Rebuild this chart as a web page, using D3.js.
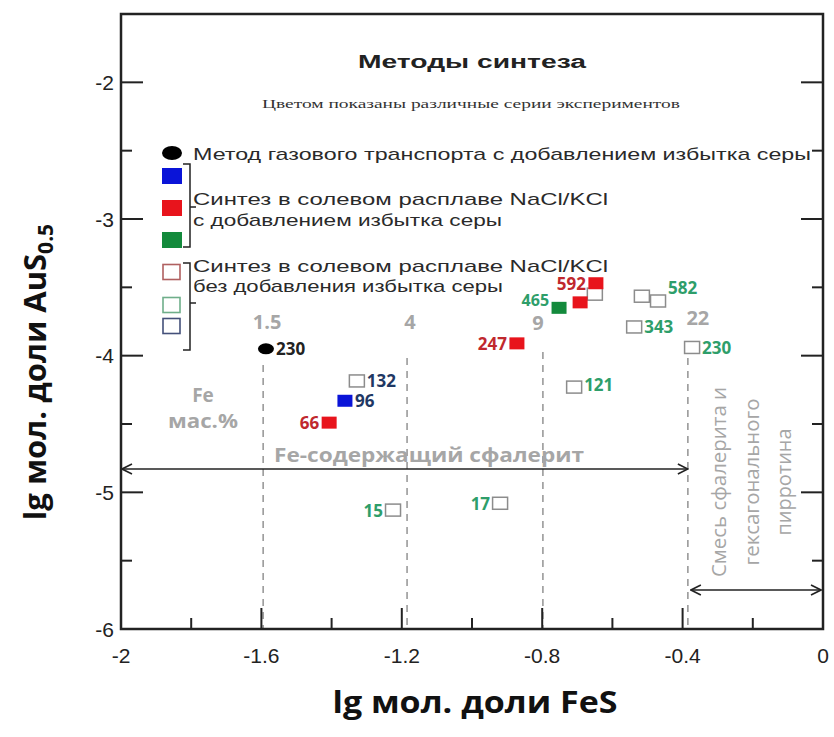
<!DOCTYPE html>
<html>
  <head>
    <meta charset="utf-8">
    <title>Методы синтеза</title>
    <script src="https://d3js.org/d3.v7.min.js"></script>
    <style>
      body { margin: 0; background: #fff; }
    </style>
  </head>
  <body>
    <script>
      // axis ticks
      var xTicks = [-2, -1.6, -1.2, -0.8, -0.4, 0];
      var xTickLabels = ["-2", "-1.6", "-1.2", "-0.8", "-0.4", "0"];
      var yTicks = [-2, -3, -4, -5, -6];
      var yTickLabels = ["-2", "-3", "-4", "-5", "-6"];

      // gas transport method with excess sulfur
      var gasX = [-1.587];
      var gasY = [-3.95];
      var gasLabels = ["230"];

      // salt melt with excess sulfur (filled)
      var blueX = [-1.362];
      var blueY = [-4.33];
      var blueLabels = ["96"];
      var redX = [-1.407, -0.872, -0.692, -0.647];
      var redY = [-4.49, -3.91, -3.61, -3.47];
      var redLabels = ["66", "247", "", "592"];
      var greenX = [-0.752];
      var greenY = [-3.65];
      var greenLabels = ["465"];

      // salt melt without excess sulfur (open)
      var openNavyX = [-1.328];
      var openNavyY = [-4.185];
      var openNavyLabels = ["132"];
      var openRedX = [-0.650];
      var openRedY = [-3.55];
      var openRedLabels = [""];
      var openGreenX = [-0.516, -0.470, -0.538, -0.373, -0.709, -1.225, -0.920];
      var openGreenY = [-3.565, -3.60, -3.79, -3.94, -4.23, -5.13, -5.08];
      var openGreenLabels = ["", "582", "343", "230", "121", "15", "17"];

      // Fe wt.% guide lines
      var feX = [-1.595, -1.185, -0.798, -0.385];
      var feLabels = ["1.5", "4", "9", "22"];

      var width = 834, height = 737;
      var svg = d3.select("body").append("svg")
          .attr("width", width)
          .attr("height", height);

      var x = d3.scaleLinear().domain([-2, 0]).range([121, 823]);
      var y = d3.scaleLinear().domain([-6, -1.5]).range([629, 14]);

      var calibri = "'Open Sans', 'Liberation Sans', sans-serif";
      var arial = "'Liberation Sans', Arial, sans-serif";
      var grey = "#a6a6a6";

      var defs = svg.append("defs");
      ["start", "end"].forEach(function(k) {
        defs.append("marker")
            .attr("id", "arr-" + k)
            .attr("viewBox", "0 0 12 12")
            .attr("refX", k == "end" ? 11 : 1)
            .attr("refY", 6)
            .attr("markerWidth", 12)
            .attr("markerHeight", 12)
            .attr("markerUnits", "userSpaceOnUse")
            .attr("orient", "auto")
          .append("path")
            .attr("d", k == "end" ? "M1,1 L11,6 L1,11" : "M11,1 L1,6 L11,11")
            .attr("fill", "none")
            .attr("stroke", "#222")
            .attr("stroke-width", 1.6);
      });

      // dashed Fe lines
      var feTop = [365, 358, 352, 358];
      svg.selectAll(".feline").data(feX).enter().append("line")
          .attr("x1", d => x(d)).attr("x2", d => x(d))
          .attr("y1", (d, i) => feTop[i]).attr("y2", y(-6))
          .attr("stroke", "#9a9a9a")
          .attr("stroke-width", 1.6)
          .attr("stroke-dasharray", "7,6");

      var feLabelY = [321, 321, 322, 317];
      var feLabelDx = [4, 3, -5, 10];
      svg.selectAll(".felab").data(feLabels).enter().append("text")
          .attr("x", (d, i) => x(feX[i]) + feLabelDx[i])
          .attr("y", (d, i) => feLabelY[i])
          .attr("text-anchor", "middle")
          .attr("dominant-baseline", "central")
          .attr("font-family", calibri)
          .attr("font-weight", 700)
          .attr("font-size", 20)
          .attr("fill", grey)
          .text(d => d);

      svg.append("text").attr("x", 203).attr("y", 395)
          .attr("text-anchor", "middle").attr("dominant-baseline", "central")
          .attr("font-family", calibri).attr("font-weight", 700).attr("font-size", 19)
          .attr("fill", grey).text("Fe");
      svg.append("text").attr("x", 203).attr("y", 421)
          .attr("text-anchor", "middle").attr("dominant-baseline", "central")
          .attr("font-family", calibri).attr("font-weight", 700).attr("font-size", 19)
          .attr("textLength", 70).attr("lengthAdjust", "spacingAndGlyphs")
          .attr("fill", grey).text("мас.%");

      // ranges
      svg.append("line")
          .attr("x1", x(-2) + 1).attr("x2", x(feX[3]))
          .attr("y1", 469).attr("y2", 469)
          .attr("stroke", "#222").attr("stroke-width", 1.6)
          .attr("marker-start", "url(#arr-start)")
          .attr("marker-end", "url(#arr-end)");
      svg.append("text").attr("x", 429).attr("y", 455)
          .attr("text-anchor", "middle").attr("dominant-baseline", "central")
          .attr("font-family", calibri).attr("font-weight", 700).attr("font-size", 19)
          .attr("textLength", 310).attr("lengthAdjust", "spacingAndGlyphs")
          .attr("fill", grey).text("Fe-содержащий сфалерит");

      svg.append("line")
          .attr("x1", x(feX[3]) + 3).attr("x2", x(0) - 2)
          .attr("y1", 590).attr("y2", 590)
          .attr("stroke", "#222").attr("stroke-width", 1.6)
          .attr("marker-start", "url(#arr-start)")
          .attr("marker-end", "url(#arr-end)");
      var mixLines = ["Смесь сфалерита и", "гексагонального", "пирротина"];
      var mixX = [718, 751, 783];
      var mixLen = [190, 167, 107];
      svg.selectAll(".mix").data(mixLines).enter().append("text")
          .attr("transform", (d, i) => "translate(" + mixX[i] + ",482) rotate(-90)")
          .attr("text-anchor", "middle").attr("dominant-baseline", "central")
          .attr("font-family", calibri).attr("font-size", 20)
          .attr("textLength", (d, i) => mixLen[i]).attr("lengthAdjust", "spacingAndGlyphs")
          .attr("fill", grey).text(d => d);

      // frame and ticks
      var frame = svg.append("g").attr("stroke", "#222").attr("fill", "none");
      frame.append("rect")
          .attr("x", x(-2)).attr("y", y(-1.5))
          .attr("width", x(0) - x(-2)).attr("height", y(-6) - y(-1.5))
          .attr("stroke-width", 2.5);

      var xMinor = d3.range(-1.8, 0, 0.4);
      frame.selectAll(".xt").data(xTicks).enter().append("line")
          .attr("x1", d => x(d)).attr("x2", d => x(d))
          .attr("y1", y(-6)).attr("y2", y(-6) - 21).attr("stroke-width", 2);
      frame.selectAll(".xm").data(xMinor).enter().append("line")
          .attr("x1", d => x(d)).attr("x2", d => x(d))
          .attr("y1", y(-6)).attr("y2", y(-6) - 11).attr("stroke-width", 2);

      var yMinor = [-5.5, -4.5, -3.5, -2.5];
      [x(-2), x(0)].forEach(function(ax) {
        var dir = ax == x(-2) ? 1 : -1;
        frame.selectAll(null).data(yTicks).enter().append("line")
            .attr("x1", ax).attr("x2", ax + dir * 22)
            .attr("y1", d => y(d)).attr("y2", d => y(d)).attr("stroke-width", 2);
        frame.selectAll(null).data(yMinor).enter().append("line")
            .attr("x1", ax).attr("x2", ax + dir * 11)
            .attr("y1", d => y(d)).attr("y2", d => y(d)).attr("stroke-width", 2);
      });

      svg.selectAll(".xtl").data(xTicks).enter().append("text")
          .attr("x", d => x(d)).attr("y", 655)
          .attr("text-anchor", "middle").attr("dominant-baseline", "central")
          .attr("font-family", arial).attr("font-size", 21).attr("fill", "#222")
          .text((d, i) => xTickLabels[i]);
      svg.selectAll(".ytl").data(yTicks).enter().append("text")
          .attr("x", 114).attr("y", d => y(d))
          .attr("text-anchor", "end").attr("dominant-baseline", "central")
          .attr("font-family", arial).attr("font-size", 21).attr("fill", "#222")
          .text((d, i) => yTickLabels[i]);

      // axis titles
      svg.append("text").attr("x", 475).attr("y", 713)
          .attr("text-anchor", "middle")
          .attr("font-family", calibri).attr("font-weight", 700).attr("font-size", 31)
          .attr("textLength", 285).attr("lengthAdjust", "spacingAndGlyphs")
          .attr("fill", "#111").text("lg мол. доли FeS");
      var yt = svg.append("text")
          .attr("transform", "translate(46,372) rotate(-90)")
          .attr("text-anchor", "middle")
          .attr("font-family", calibri).attr("font-weight", 700).attr("font-size", 31)
          .attr("fill", "#111");
      yt.append("tspan").text("lg мол. доли AuS");
      yt.append("tspan").attr("font-size", 21).attr("dy", 7).text("0.5");

      // header
      svg.append("text").attr("x", 472).attr("y", 68)
          .attr("text-anchor", "middle")
          .attr("font-family", arial).attr("font-weight", 700).attr("font-size", 18)
          .attr("textLength", 228).attr("lengthAdjust", "spacingAndGlyphs")
          .attr("fill", "#222").text("Методы синтеза");
      svg.append("text").attr("x", 471).attr("y", 108)
          .attr("text-anchor", "middle")
          .attr("font-family", "'Liberation Serif', 'DejaVu Serif', serif").attr("font-size", 13)
          .attr("textLength", 418).attr("lengthAdjust", "spacingAndGlyphs")
          .attr("fill", "#333").text("Цветом показаны различные серии экспериментов");

      // legend
      var lg = svg.append("g");
      lg.append("ellipse").attr("cx", 172).attr("cy", 153).attr("rx", 10).attr("ry", 7).attr("fill", "#000");
      var legFilled = [["#0a14d8", 176], ["#e8141c", 208], ["#138a3c", 240]];
      legFilled.forEach(function(d) {
        lg.append("rect").attr("x", 162).attr("y", d[1] - 8).attr("width", 20).attr("height", 16).attr("fill", d[0]);
      });
      var legOpen = [["#b06060", 272], ["#6fae8a", 305], ["#44507a", 326]];
      legOpen.forEach(function(d) {
        lg.append("rect").attr("x", 163).attr("y", d[1] - 7.5).attr("width", 17).attr("height", 15)
            .attr("fill", "#fff").attr("stroke", d[0]).attr("stroke-width", 1.6);
      });
      var brackets = [[164, 247, 207], [263, 350, 303]];
      brackets.forEach(function(b) {
        lg.append("path")
            .attr("d", "M183," + b[0] + " H190 V" + b[1] + " H183 M190," + b[2] + " H196")
            .attr("fill", "none").attr("stroke", "#222").attr("stroke-width", 1.5);
      });
      var legText = [
        ["Метод газового транспорта с добавлением избытка серы", 160, 618],
        ["Синтез в солевом расплаве NaCl/KCl", 205, 415],
        ["с добавлением избытка серы", 226, 309],
        ["Синтез в солевом расплаве NaCl/KCl", 272, 415],
        ["без добавления избытка серы", 292, 310]
      ];
      legText.forEach(function(t) {
        lg.append("text").attr("x", 193).attr("y", t[1])
            .attr("font-family", arial).attr("font-size", 17)
            .attr("textLength", t[2]).attr("lengthAdjust", "spacingAndGlyphs")
            .attr("fill", "#2a2a2a").text(t[0]);
      });

      // points
      var pts = svg.append("g");
      function squares(xs, ys, fill, stroke) {
        pts.selectAll(null).data(xs).enter().append("rect")
            .attr("x", d => x(d) - 7.5)
            .attr("y", (d, i) => y(ys[i]) - 6)
            .attr("width", 15).attr("height", 12)
            .attr("fill", fill)
            .attr("stroke", stroke)
            .attr("stroke-width", stroke == "none" ? 0 : 1.5);
      }
      function labels(xs, ys, labs, color, sides, dy, size) {
        pts.selectAll(null).data(labs).enter().append("text")
            .attr("x", (d, i) => x(xs[i]) + (sides[i] == "l" ? -10 : 10))
            .attr("y", (d, i) => y(ys[i]) + (dy ? dy[i] : 0))
            .attr("text-anchor", (d, i) => sides[i] == "l" ? "end" : "start")
            .attr("dominant-baseline", "central")
            .attr("font-family", calibri).attr("font-weight", 700).attr("font-size", size || 17)
            .attr("fill", color)
            .text(d => d);
      }

      squares(openRedX, openRedY, "#fff", "#8c8c8c");
      squares(openGreenX, openGreenY, "#fff", "#8c8c8c");
      squares(openNavyX, openNavyY, "#fff", "#8c8c8c");
      squares(redX, redY, "#e8141c", "none");
      squares(blueX, blueY, "#0a14d8", "none");
      squares(greenX, greenY, "#138a3c", "none");
      pts.selectAll(null).data(gasX).enter().append("ellipse")
          .attr("cx", d => x(d)).attr("cy", (d, i) => y(gasY[i]))
          .attr("rx", 8).attr("ry", 5.5).attr("fill", "#000");

      labels(gasX, gasY, gasLabels, "#222", ["r"]);
      labels(blueX, blueY, blueLabels, "#1f3864", ["r"]);
      labels(redX, redY, redLabels, "#c0282e", ["l", "l", "l", "l"]);
      labels(greenX, greenY, greenLabels, "#2e9e6a", ["l"], [-8], 16);
      labels(openNavyX, openNavyY, openNavyLabels, "#1f3864", ["r"]);
      labels(openGreenX, openGreenY, openGreenLabels, "#2e9e6a", ["r", "r", "r", "r", "r", "l", "l"],
          [0, -14, 0, 0, -3, 0, 0]);
    </script>
  </body>
</html>
